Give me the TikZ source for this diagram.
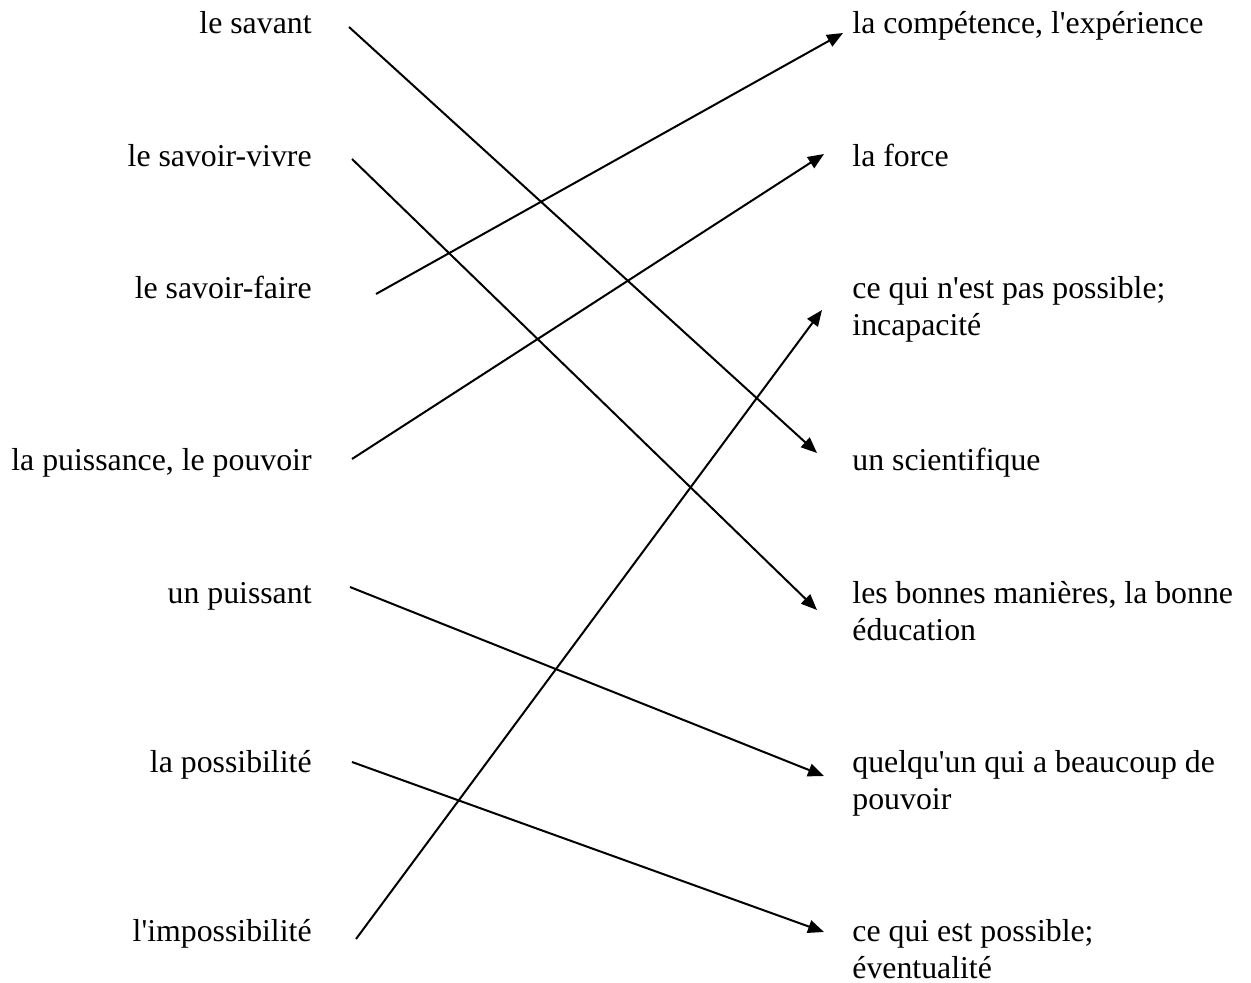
\documentclass[tikz,border=0pt]{standalone}
\usepackage{fontspec}
\setmainfont{Liberation Serif}
\usetikzlibrary{arrows.meta}
\newcommand{\apos}{\textquotesingle}
\begin{document}
\begin{tikzpicture}[x=0.5pt,y=-0.5pt,
  lbl/.style={inner sep=0pt, font=\fontsize{15.9}{18.5}\selectfont},
  lft/.style={lbl, anchor=base east},
  rgt/.style={lbl, anchor=base west, align=left},
  link/.style={line width=1pt, -{Triangle[length=8pt,width=6.5pt]}}]
\useasboundingbox (0,0) rectangle (1251,983);
\fill[white] (0,0) rectangle (1251,983);
% left column
\node[lft] (l1) at (312,34) {le savant};
\node[lft] (l2) at (312,167) {le savoir-vivre};
\node[lft] (l3) at (312,299) {le savoir-faire};
\node[lft] (l4) at (312,470) {la puissance, le pouvoir};
\node[lft] (l5) at (312,603) {un puissant};
\node[lft] (l6) at (312,772) {la possibilité};
\node[lft] (l7) at (312,941) {l\apos impossibilité};
% right column (multi-line nodes are placed by their last baseline)
\node[rgt] (r1) at (852,34) {la compétence, l\apos expérience};
\node[rgt] (r2) at (852,167) {la force};
\node[rgt] (r3) at (852,336) {ce qui n\apos est pas possible;\\incapacité};
\node[rgt] (r4) at (852,470) {un scientifique};
\node[rgt] (r5) at (852,640) {les bonnes manières, la bonne\\éducation};
\node[rgt] (r6) at (852,809) {quelqu\apos un qui a beaucoup de\\pouvoir};
\node[rgt] (r7) at (852,978) {ce qui est possible;\\éventualité};
% connector ends
\coordinate (s1) at (349,27);  \coordinate (e1) at (817,453);
\coordinate (s2) at (352,159); \coordinate (e2) at (817,610);
\coordinate (s3) at (376,294); \coordinate (e3) at (843,33);
\coordinate (s4) at (352,459); \coordinate (e4) at (824,154);
\coordinate (s5) at (350,587); \coordinate (e5) at (824,776);
\coordinate (s6) at (352,762); \coordinate (e6) at (824,932);
\coordinate (s7) at (356,939); \coordinate (e7) at (822,310);
\draw[link] (s1) -- (e1);
\draw[link] (s2) -- (e2);
\draw[link] (s3) -- (e3);
\draw[link] (s4) -- (e4);
\draw[link] (s5) -- (e5);
\draw[link] (s6) -- (e6);
\draw[link] (s7) -- (e7);
\end{tikzpicture}
\end{document}
